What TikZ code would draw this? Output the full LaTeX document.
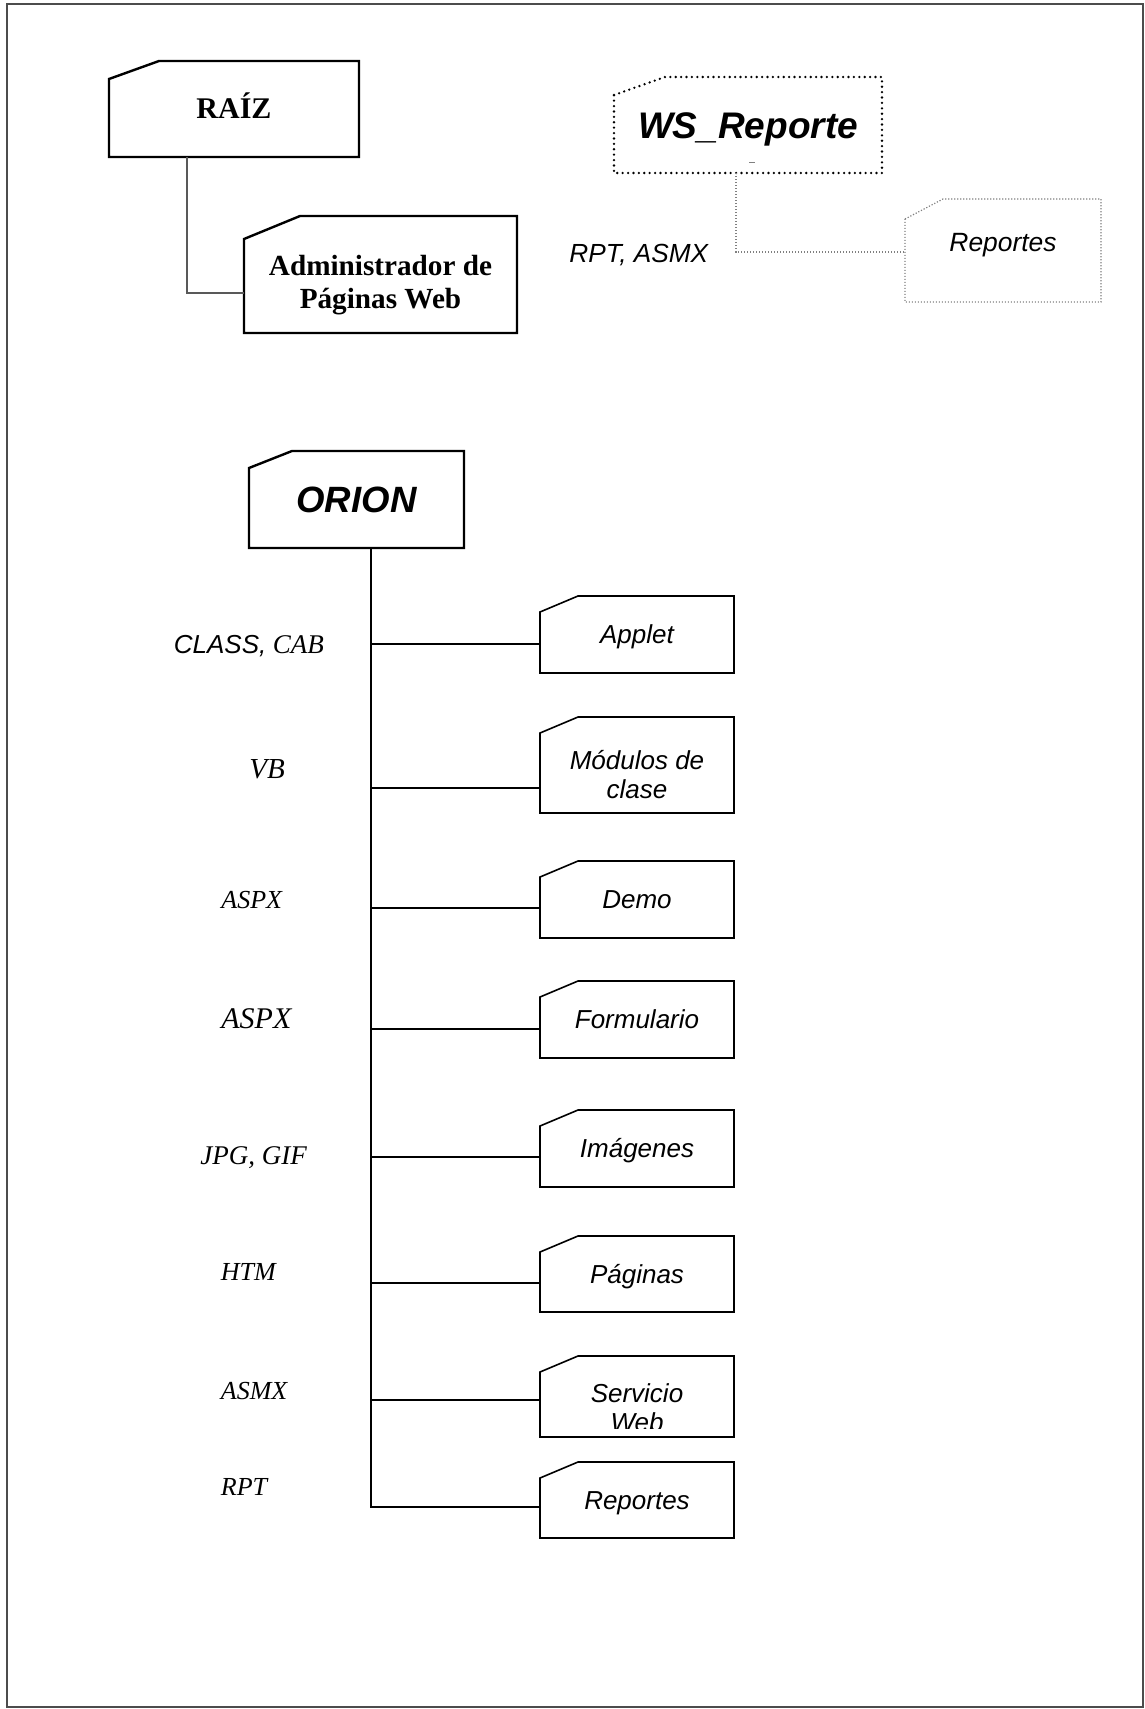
\documentclass[tikz,border=0pt]{standalone}
\usepackage{fontspec}
\setmainfont{Liberation Serif}
\newfontfamily\arial{Liberation Sans}
\usetikzlibrary{calc}
\tikzset{
  caja/.style={rectangle,draw=none,inner sep=0pt,outer sep=0pt,align=center},
  raizbox/.style={caja,font=\bfseries\fontsize{15}{17}\selectfont,text height=9.9pt,text depth=0pt},
  adminbox/.style={caja,font=\bfseries\fontsize{14.6}{16.5}\selectfont,text height=33.5pt,text depth=0pt},
  wsbox/.style={caja,font=\arial\bfseries\itshape\fontsize{18.5}{20}\selectfont,text height=13.2pt,text depth=0pt},
  orionbox/.style={caja,font=\arial\bfseries\itshape\fontsize{18.3}{20}\selectfont,text height=13.1pt,text depth=0pt},
  hijo/.style={caja,minimum width=97pt,minimum height=38.5pt,font=\arial\itshape\fontsize{13}{14.5}\selectfont,text height=9.3pt,text depth=0pt},
  etiqueta/.style={anchor=base west,inner sep=0pt,font=\itshape\fontsize{13}{15}\selectfont},
  borde/.style={line width=1.2pt},
  bordehijo/.style={line width=0.8pt},
  enlace/.style={line width=0.7pt},
  punteado/.style={line width=1.3pt,dash pattern=on 0pt off 2.7pt,line cap=round},
  puntfino/.style={gray,line width=0.6pt,dash pattern=on 0.6pt off 0.9pt}
}
% contorno de carpeta con esquina cortada
\newcommand{\carpeta}[4][]{\draw[#1] ([yshift=-#4]#2.north west) -- ([xshift=#3]#2.north west) -- (#2.north east) -- (#2.south east) -- (#2.south west) -- cycle;}
\begin{document}
\begin{tikzpicture}[x=0.5pt,y=-0.5pt]
	\useasboundingbox (0,0) rectangle (1145,1709);
	\draw[black!70,line width=1pt] (7,4) rectangle (1143,1707);
	% raiz
	\node[raizbox,minimum width=125pt,minimum height=48pt] (raiz) at (234,109) {RAÍZ};
	\node[adminbox,minimum width=136.5pt,minimum height=58.5pt] (admin) at (380.5,274.5) {Administrador de\\Páginas Web};
	\carpeta[borde]{raiz}{25pt}{9pt}
	\carpeta[borde]{admin}{28pt}{11.5pt}
	\draw[black!65,line width=0.6pt] ([xshift=39pt]raiz.south west) |- ([yshift=20pt]admin.south west);
	% servicio web de reportes
	\node[wsbox,minimum width=134pt,minimum height=48pt] (ws) at (748,125) {WS\_Reporte};
	\node[caja,minimum width=98pt,minimum height=51.5pt,font=\arial\itshape\fontsize{13.2}{15}\selectfont,text height=9.5pt,text depth=9pt] (wsrep) at (1003,250.5) {Reportes};
	\carpeta[punteado]{ws}{25.5pt}{9pt}
	\carpeta[puntfino]{wsrep}{19pt}{10pt}
	\draw[puntfino] ([xshift=-6pt]ws.south) |- ([yshift=25pt]wsrep.south west);
	\draw[gray,line width=0.5pt] (749,162) -- (755,162);
	\node[etiqueta,font=\arial\itshape\fontsize{13.1}{15}\selectfont] (extws) at (569,262) {RPT, ASMX};
	% orion
	\node[orionbox,minimum width=107.5pt,minimum height=48.5pt] (orion) at (356.5,499.5) {ORION};
	\carpeta[borde]{orion}{21.5pt}{8.5pt}
	\node[hijo] (applet) at (637,634.5) {Applet};
	\node[hijo,minimum height=48pt,text height=33pt] (modulos) at (637,765) {Módulos de\\clase};
	\node[hijo] (demo) at (637,899.5) {Demo};
	\node[hijo] (form) at (637,1019.5) {Formulario};
	\node[hijo] (img) at (637,1148.5) {Imágenes};
	\node[hijo,minimum height=38pt] (pag) at (637,1274) {Páginas};
	\begin{scope}
		\clip (540,1350) rectangle (734,1428);
		\node[hijo,minimum height=40.5pt,text height=34.5pt] (serv) at (637,1396.5) {Servicio\\Web};
	\end{scope}
	\node[hijo,minimum height=38pt] (rep) at (637,1500) {Reportes};
	\foreach \n in {applet,modulos,demo,form,img,pag,serv,rep}
		\carpeta[bordehijo]{\n}{19pt}{8pt}
	% ramas del tronco
	\coordinate (t1) at (371,644);
	\coordinate (t2) at (371,788);
	\coordinate (t3) at (371,908);
	\coordinate (t4) at (371,1029);
	\coordinate (t5) at (371,1157);
	\coordinate (t6) at (371,1283);
	\coordinate (t7) at (371,1400);
	\coordinate (t8) at (371,1507);
	\draw[enlace] (orion.south -| t1) -- (t8) -- (t8 -| rep.west);
	\foreach \t/\n in {t1/applet,t2/modulos,t3/demo,t4/form,t5/img,t6/pag,t7/serv}
		\draw[enlace] (\t) -- (\t -| \n.west);
	% extensiones
	\node[etiqueta] (e1) at (173.5,653) {{\arial CLASS,} {\fontsize{13.5}{15}\selectfont CAB}};
	\node[etiqueta,font=\itshape\fontsize{14.5}{16}\selectfont] (e2) at (249,778) {VB};
	\node[etiqueta] (e3) at (221,908) {ASPX};
	\node[etiqueta,font=\itshape\fontsize{15}{17}\selectfont] (e4) at (221,1028) {ASPX};
	\node[etiqueta,font=\itshape\fontsize{13.5}{15}\selectfont] (e5) at (200,1164) {JPG, GIF};
	\node[etiqueta] (e6) at (220.5,1280) {HTM};
	\node[etiqueta] (e7) at (220.5,1399) {ASMX};
	\node[etiqueta] (e8) at (220.5,1495) {RPT};
\end{tikzpicture}
\end{document}
